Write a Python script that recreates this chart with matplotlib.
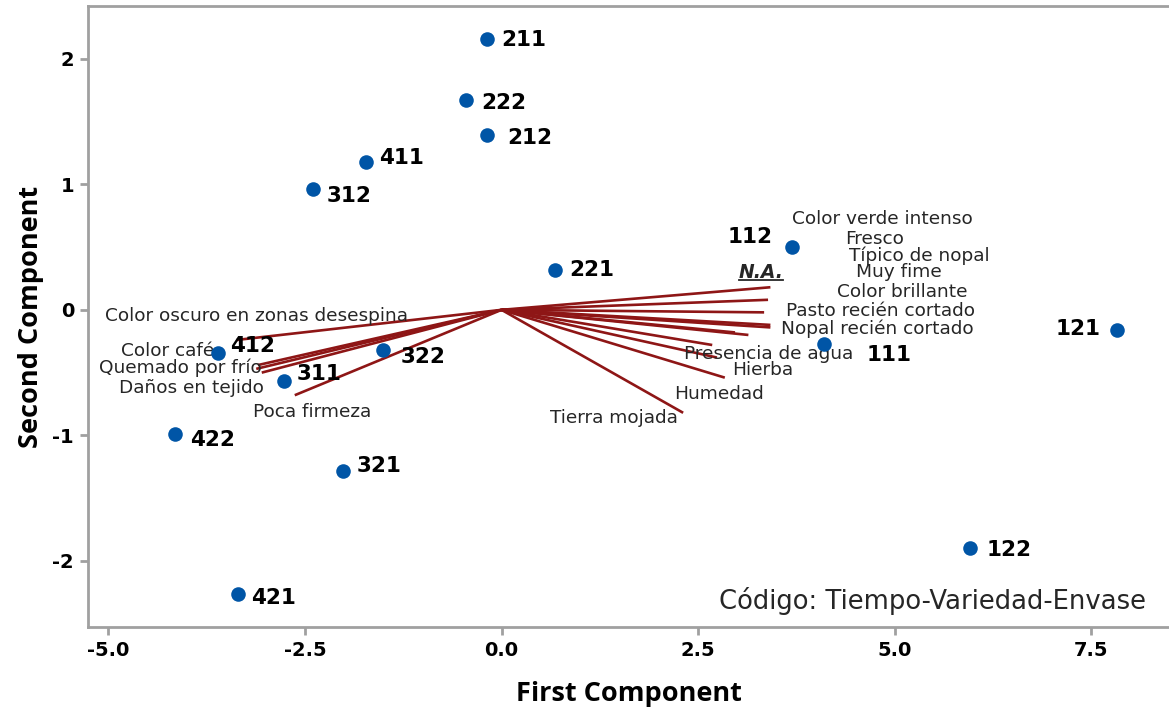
import matplotlib
matplotlib.use("Agg")
import matplotlib.pyplot as plt
from matplotlib.lines import Line2D

plt.rcParams['font.family'] = ['DejaVu Sans']

# ---- data: scores ----
codes = ['211', '222', '212', '411', '312', '221', '112', '121',
         '111', '412', '322', '311', '422', '321', '122', '421']
pc1 = [-0.18, -0.45, -0.18, -1.72, -2.40, 0.68, 3.70, 7.83,
       4.10, -3.61, -1.51, -2.77, -4.15, -2.02, 5.96, -3.35]
pc2 = [2.16, 1.67, 1.39, 1.18, 0.96, 0.32, 0.50, -0.16,
       -0.27, -0.34, -0.32, -0.57, -0.99, -1.28, -1.90, -2.26]

# ---- data: loadings (vector end points) ----
attributes = ['Color verde intenso', 'Fresco', 'Típico de nopal', 'Muy fime',
              'Color brillante', 'Pasto recién cortado', 'Nopal recién cortado',
              'Presencia de agua', 'Hierba', 'Humedad', 'Tierra mojada',
              'Color oscuro en zonas desespina', 'Color café', 'Quemado por frío',
              'Daños en tejido', 'Poca firmeza']
load1 = [3.42, 3.39, 3.34, 3.42, 3.42, 3.14, 2.97, 2.68, 2.74, 2.84, 2.31,
         -3.37, -3.10, -3.12, -3.05, -2.63]
load2 = [0.18, 0.08, -0.02, -0.12, -0.14, -0.20, -0.18, -0.28, -0.38, -0.54, -0.82,
         -0.24, -0.44, -0.47, -0.50, -0.68]

# label positions for the attribute names (data coords)
attr_lx = [4.85, 4.75, 5.32, 5.06, 5.10, 4.82, 4.78, 3.40, 3.32, 2.76, 1.43,
           -3.12, -4.25, -4.09, -3.94, -2.41]
attr_ly = [0.725, 0.566, 0.43, 0.30, 0.14, -0.01, -0.15, -0.35, -0.48, -0.67, -0.86,
           -0.05, -0.33, -0.46, -0.62, -0.81]

# point-label offsets in points (dx, dy, ha)
lab_off = {
    '211': (10, -1, 'left'), '222': (11, -2, 'left'), '212': (14, -2, 'left'),
    '411': (9, 3, 'left'), '312': (10, -5, 'left'), '221': (10, 0, 'left'),
    '112': (-14, 7, 'right'), '121': (-12, 1, 'right'), '111': (31, -8, 'left'),
    '412': (9, 5, 'left'), '322': (13, -5, 'left'), '311': (9, 5, 'left'),
    '422': (11, -4, 'left'), '321': (10, 3, 'left'), '122': (12, -1, 'left'),
    '421': (9, -3, 'left'),
}

fig = plt.figure(figsize=(11.69, 7.10), dpi=100)
ax = fig.add_axes([88/1169, 1-627/710, 1-88/1169, (627-6)/710])
ax.set_xlim(-5.26, 8.49)
ax.set_ylim(-2.526, 2.42)

line_col = '#8E1616'
pt_col = '#0055A6'
txt_col = '#262626'

for x, y in zip(load1, load2):
    ax.plot([0, x], [0, y], color=line_col, lw=1.9, solid_capstyle='butt', zorder=2)

for name, lx, ly in zip(attributes, attr_lx, attr_ly):
    ax.text(lx, ly, name, ha='center', va='center', fontsize=13.3, color=txt_col, zorder=4)

ax.scatter(pc1, pc2, s=110, color=pt_col, zorder=5, linewidths=0)
for c, x, y in zip(codes, pc1, pc2):
    dx, dy, ha = lab_off[c]
    ax.annotate(c, (x, y), xytext=(dx, dy), textcoords='offset points',
                ha=ha, va='center', fontsize=15.5, fontweight='bold', color='black', zorder=6)

na = ax.text(3.30, 0.30, 'N.A.', ha='center', va='center', fontsize=13.5,
             fontweight='bold', fontstyle='italic', color=txt_col, zorder=6)

ax.text(0.979, 0.042, 'Código: Tiempo-Variedad-Envase', transform=ax.transAxes,
        ha='right', va='center', fontsize=18.6, color=txt_col)

ax.set_xticks([-5.0, -2.5, 0.0, 2.5, 5.0, 7.5])
ax.set_xticklabels(['-5.0', '-2.5', '0.0', '2.5', '5.0', '7.5'])
ax.set_yticks([-2, -1, 0, 1, 2])
ax.set_yticklabels(['-2', '-1', '0', '1', '2'])

spine_col = '#A0A0A0'
for s in ['left', 'bottom', 'top']:
    ax.spines[s].set_color(spine_col)
    ax.spines[s].set_linewidth(2)
ax.spines['right'].set_visible(False)
ax.tick_params(axis='both', direction='out', length=6, width=2, color=spine_col,
               labelsize=14, pad=4)
for t in ax.get_xticklabels() + ax.get_yticklabels():
    t.set_fontweight('bold')

ax.set_xlabel('First Component', fontsize=19.5, fontweight='bold', labelpad=15,
              family=['Open Sans', 'DejaVu Sans'])
ax.set_ylabel('Second Component', fontsize=19.5, fontweight='bold', labelpad=6,
              family=['Open Sans', 'DejaVu Sans'])

# underline for N.A.
fig.canvas.draw()
bb = na.get_window_extent()
fig.lines.append(Line2D([bb.x0 / fig.bbox.width, bb.x1 / fig.bbox.width],
                        [(bb.y0 + 2) / fig.bbox.height, (bb.y0 + 2) / fig.bbox.height],
                        transform=fig.transFigure, color=txt_col, lw=1.3))

fig.savefig('out.png', dpi=100)
